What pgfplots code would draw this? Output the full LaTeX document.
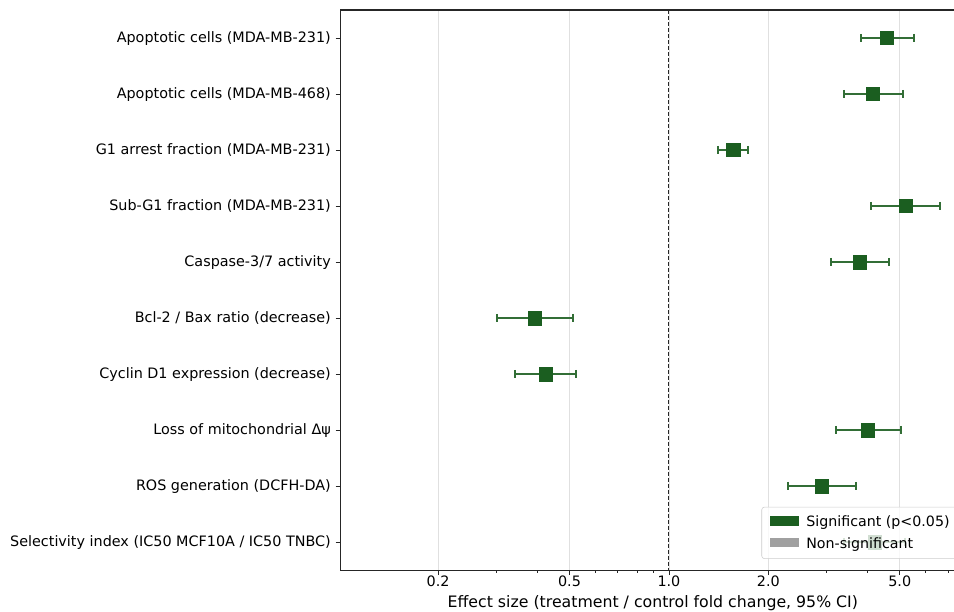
\documentclass[border=0pt]{standalone}
\usepackage{fontspec}
\setmainfont{DejaVu Sans}
\usepackage{pgfplots}
\usepackage{pgfplotstable}
\pgfplotsset{compat=1.18}

\definecolor{sig}{HTML}{1B5E20}
\definecolor{nonsig}{HTML}{A0A0A0}

% row, estimate (fold change)
\pgfplotstableread{
row est
0 4.57
1 4.14
2 1.565
3 5.22
4 3.78
5 0.392
6 0.423
7 4.00
8 2.90
9 4.20
}\effects

\pgfplotsset{whisker/.style={forget plot, color=sig!90!white, line width=1.5pt,
    mark=|, mark size=3pt, mark options={solid, line width=1.4pt}}}

\begin{document}
\begin{tikzpicture}
\begin{axis}[
    scale only axis,
    width=447.8pt,
    height=401.8pt,
    xmode=log,
    xmin=0.1014, xmax=7.88,
    ymin=-0.5, ymax=9.5,
    y dir=reverse,
    xtick={0.2,0.5,1,2,5},
    xticklabels={0.2,0.5,1.0,2.0,5.0},
    minor xtick={0.3,0.4,0.6,0.7,0.8,0.9,3,4,6,7},
    ytick={0,...,9},
    yticklabels={
        Apoptotic cells (MDA-MB-231),
        Apoptotic cells (MDA-MB-468),
        G1 arrest fraction (MDA-MB-231),
        Sub-G1 fraction (MDA-MB-231),
        Caspase-3/7 activity,
        Bcl-2 / Bax ratio (decrease),
        Cyclin D1 expression (decrease),
        Loss of mitochondrial Δψ,
        ROS generation (DCFH-DA),
        Selectivity index (IC50 MCF10A / IC50 TNBC)},
    tick label style={font=\fontsize{10.3}{12}\selectfont},
    xticklabel style={yshift=3.4pt},
    tick pos=left,
    tick align=outside,
    major tick length=3.6pt,
    minor tick length=2pt,
    every tick/.style={black!85, line width=0.6pt},
    axis line style={black!85, line width=0.8pt},
    xmajorgrids,
    major grid style={black!12, line width=0.6pt},
    xlabel={Effect size (treatment / control fold change, 95\% CI)},
    xlabel style={at={(axis description cs:0.5,0)}, anchor=center,
        yshift=-23.8pt, font=\fontsize{11.3}{13}\selectfont},
    /pgf/number format/assume math mode=true,
    legend cell align=left,
    legend style={at={(0.674,0.02)}, anchor=south west,
        font=\fontsize{10.2}{12}\selectfont,
        draw=black!20, rounded corners=2pt, fill=white, fill opacity=0.8,
        text opacity=1, row sep=2.5pt, inner xsep=3pt, inner ysep=4pt},
    legend image code/.code={
        \path[draw=none, fill=none] (0pt,0pt) rectangle (27pt,1pt);
        \fill[#1, draw=none, sharp corners, fill opacity=1] (3pt,-2.6pt) rectangle (24pt,4.4pt);},
]
\addplot[forget plot, black!85, line width=0.8pt, dash pattern=on 3pt off 1.3pt]
    coordinates {(1,-0.5) (1,9.5)};

% 95% CI whiskers
\addplot[whisker] coordinates {(3.81,0) (5.51,0)};
\addplot[whisker] coordinates {(3.38,1) (5.11,1)};
\addplot[whisker] coordinates {(1.41,2) (1.74,2)};
\addplot[whisker] coordinates {(4.08,3) (6.62,3)};
\addplot[whisker] coordinates {(3.09,4) (4.63,4)};
\addplot[whisker] coordinates {(0.302,5) (0.511,5)};
\addplot[whisker] coordinates {(0.343,6) (0.522,6)};
\addplot[whisker] coordinates {(3.20,7) (5.04,7)};
\addplot[whisker] coordinates {(2.30,8) (3.68,8)};
\addplot[whisker] coordinates {(3.40,9) (5.20,9)};

\addplot[forget plot, only marks, mark=square*, mark size=4.8pt,
    color=sig, mark options={fill=sig, draw=sig}]
    table[x=est, y=row] {\effects};

\coordinate (cutr) at (axis cs:7.3,-0.5);
\coordinate (cutb) at (axis description cs:0,0);

\addlegendimage{fill=sig}
\addlegendentry{Significant (p<0.05)}
\addlegendimage{fill=nonsig}
\addlegendentry{Non-significant}
\end{axis}
\coordinate (L) at ([xshift=-4pt]current bounding box.south west);
\coordinate (B) at ([yshift=-29.5pt]cutb);
\coordinate (T) at ([yshift=7.2pt]cutr);
\pgfresetboundingbox
\path[use as bounding box] (L |- B) rectangle (T);
\end{tikzpicture}
\end{document}
